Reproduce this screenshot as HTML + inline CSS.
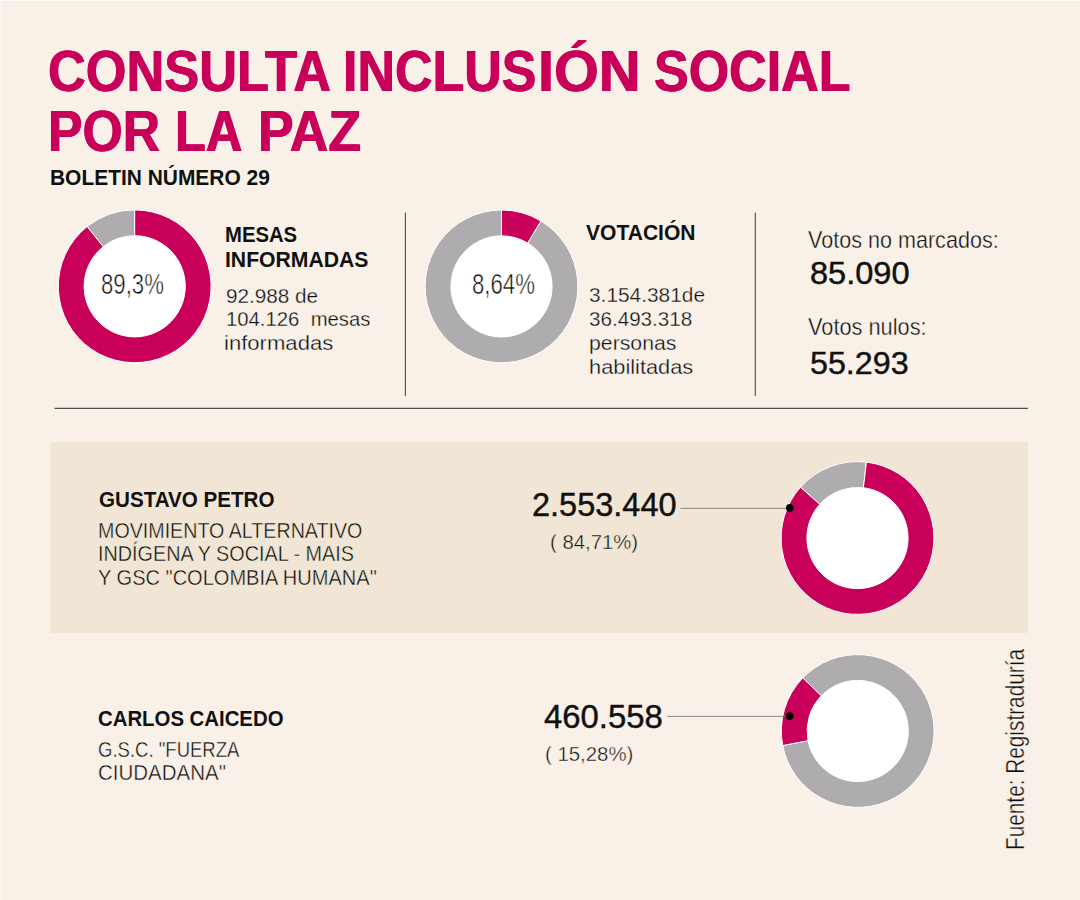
<!DOCTYPE html>
<html lang="es">
<head>
<meta charset="utf-8">
<title>Consulta Inclusión Social por la Paz</title>
<style>
html,body{margin:0;padding:0}
body{width:1080px;height:900px;position:relative;overflow:hidden;background:#f9f1e8;
font-family:"Liberation Sans",sans-serif;}
svg{position:absolute;left:0;top:0}
h1{margin:0;font-size:0;line-height:0;font-weight:700}
.t{position:absolute;white-space:pre;line-height:1;transform-origin:0 0;margin:0;display:block}
.r{position:absolute;width:0;height:0;transform:rotate(-90deg);transform-origin:0 0}
</style>
</head>
<body>
<svg width="1080" height="900" viewBox="0 0 1080 900">
<rect x="0" y="0" width="1080" height="1" fill="#fefbf5"/>
<rect x="0" y="1" width="1080" height="2" fill="#f6f0e7"/>
<rect x="0" y="0" width="1" height="900" fill="#fdf6f0"/>
<rect x="50.7" y="442" width="977.3" height="191" fill="#f1e6d6"/>
<line x1="54.6" y1="408.3" x2="1028" y2="408.3" stroke="#524b4b" stroke-width="1.3"/>
<line x1="405.4" y1="212.5" x2="405.4" y2="396" stroke="#524b4b" stroke-width="1.1"/>
<line x1="755.3" y1="212.5" x2="755.3" y2="396" stroke="#524b4b" stroke-width="1.1"/>
<circle cx="134.7" cy="286.3" r="51.6" fill="#fff"/><path d="M87.14 226.51A76.4 76.4 0 0 1 134.70 209.90L134.70 235.70A50.6 50.6 0 0 0 103.20 246.70Z" fill="#aeacaf" stroke="#fff" stroke-width="1" stroke-linejoin="round"/><path d="M134.70 209.90A76.4 76.4 0 1 1 87.14 226.51L103.20 246.70A50.6 50.6 0 1 0 134.70 235.70Z" fill="#c8005a" stroke="#fff" stroke-width="1" stroke-linejoin="round"/>
<circle cx="501.5" cy="286.4" r="51.6" fill="#fff"/><path d="M540.96 220.98A76.4 76.4 0 1 1 501.50 210.00L501.50 235.80A50.6 50.6 0 1 0 527.64 243.07Z" fill="#aeacaf" stroke="#fff" stroke-width="1" stroke-linejoin="round"/><path d="M501.50 210.00A76.4 76.4 0 0 1 540.96 220.98L527.64 243.07A50.6 50.6 0 0 0 501.50 235.80Z" fill="#c8005a" stroke="#fff" stroke-width="1" stroke-linejoin="round"/>
<circle cx="857.5" cy="538.0" r="51.6" fill="#fff"/><path d="M800.46 487.18A76.4 76.4 0 0 1 866.41 462.12L863.40 487.75A50.6 50.6 0 0 0 819.72 504.34Z" fill="#aeacaf" stroke="#fff" stroke-width="1" stroke-linejoin="round"/><path d="M866.41 462.12A76.4 76.4 0 1 1 800.46 487.18L819.72 504.34A50.6 50.6 0 1 0 863.40 487.75Z" fill="#c8005a" stroke="#fff" stroke-width="1" stroke-linejoin="round"/>
<circle cx="857.7" cy="731.0" r="51.6" fill="#fff"/><path d="M802.74 677.93A76.4 76.4 0 1 1 782.70 745.58L808.03 740.65A50.6 50.6 0 1 0 821.30 695.85Z" fill="#aeacaf" stroke="#fff" stroke-width="1" stroke-linejoin="round"/><path d="M782.70 745.58A76.4 76.4 0 0 1 802.74 677.93L821.30 695.85A50.6 50.6 0 0 0 808.03 740.65Z" fill="#c8005a" stroke="#fff" stroke-width="1" stroke-linejoin="round"/>
<line x1="680.4" y1="508.3" x2="790" y2="508.3" stroke="#6a6a6a" stroke-width="0.8"/>
<line x1="667.3" y1="716.4" x2="790" y2="716.4" stroke="#6a6a6a" stroke-width="0.8"/>
<circle cx="789.8" cy="507.9" r="3.8" fill="#000"/>
<circle cx="789.7" cy="716.1" r="3.8" fill="#000"/>
</svg>
<h1><span class="t" style="left:47.66px;top:44.30px;font-size:56.83px;transform:scaleX(0.9211);color:#c8005a;font-weight:700;text-shadow:.6px 0 currentColor,-.6px 0 currentColor">CONSULTA</span> <span class="t" style="left:343.39px;top:44.30px;font-size:56.83px;transform:scaleX(0.9145);color:#c8005a;font-weight:700;text-shadow:.6px 0 currentColor,-.6px 0 currentColor">INCLUS</span><span class="t" style="left:537.73px;top:44.30px;font-size:56.83px;transform:scaleX(1.0142);color:#c8005a;font-weight:700;text-shadow:.6px 0 currentColor,-.6px 0 currentColor">IÓN</span> <span class="t" style="left:654.39px;top:44.30px;font-size:56.83px;transform:scaleX(0.9152);color:#c8005a;font-weight:700;text-shadow:.6px 0 currentColor,-.6px 0 currentColor">SOCIAL</span> <span class="t" style="left:48.41px;top:104.30px;font-size:56.83px;transform:scaleX(0.9106);color:#c8005a;font-weight:700;text-shadow:.6px 0 currentColor,-.6px 0 currentColor">POR</span> <span class="t" style="left:175.47px;top:104.30px;font-size:56.83px;transform:scaleX(0.8891);color:#c8005a;font-weight:700;text-shadow:.6px 0 currentColor,-.6px 0 currentColor">LA</span> <span class="t" style="left:257.56px;top:104.30px;font-size:56.83px;transform:scaleX(0.9416);color:#c8005a;font-weight:700;text-shadow:.6px 0 currentColor,-.6px 0 currentColor">PAZ</span></h1>
<div class="t" style="left:50.07px;top:166.50px;font-size:22.24px;transform:scaleX(0.9415);color:#111111;font-weight:700">BOLETIN NÚMERO 29</div>
<div class="t" style="left:225.35px;top:224.40px;font-size:22.38px;transform:scaleX(0.9068);color:#111111;font-weight:700">MESAS</div>
<div class="t" style="left:225.30px;top:248.50px;font-size:22.38px;transform:scaleX(0.9450);color:#111111;font-weight:700">INFORMADAS</div>
<div class="t" style="left:225.94px;top:285.50px;font-size:20.48px;transform:scaleX(1.0113);color:#0d0d0d;-webkit-text-stroke:0.3px #f9f1e8">92.988 de</div>
<div class="t" style="left:225.74px;top:309.40px;font-size:20.48px;transform:scaleX(0.9916);color:#0d0d0d;-webkit-text-stroke:0.3px #f9f1e8">104.126  mesas</div>
<div class="t" style="left:224.27px;top:333.10px;font-size:20.48px;transform:scaleX(1.0790);color:#0d0d0d;-webkit-text-stroke:0.3px #f9f1e8">informadas</div>
<div class="t" style="left:101.17px;top:269.40px;font-size:29.45px;transform:scaleX(0.7534);color:#0d0d0d;-webkit-text-stroke:0.55px #fff">89,3%</div>
<div class="t" style="left:472.27px;top:269.40px;font-size:29.45px;transform:scaleX(0.7534);color:#0d0d0d;-webkit-text-stroke:0.55px #fff">8,64%</div>
<div class="t" style="left:586.31px;top:221.50px;font-size:22.38px;transform:scaleX(0.9404);color:#111111;font-weight:700">VOTACIÓN</div>
<div class="t" style="left:589.15px;top:285.10px;font-size:20.48px;transform:scaleX(1.0194);color:#0d0d0d;-webkit-text-stroke:0.3px #f9f1e8">3.154.381de</div>
<div class="t" style="left:589.16px;top:309.00px;font-size:20.48px;transform:scaleX(1.0077);color:#0d0d0d;-webkit-text-stroke:0.3px #f9f1e8">36.493.318</div>
<div class="t" style="left:588.91px;top:333.10px;font-size:20.48px;transform:scaleX(1.0381);color:#0d0d0d;-webkit-text-stroke:0.3px #f9f1e8">personas</div>
<div class="t" style="left:588.83px;top:357.00px;font-size:20.48px;transform:scaleX(1.0654);color:#0d0d0d;-webkit-text-stroke:0.3px #f9f1e8">habilitadas</div>
<div class="t" style="left:808.46px;top:227.80px;font-size:24.71px;transform:scaleX(0.8733);color:#0d0d0d;-webkit-text-stroke:0.4px #f9f1e8">Votos no marcados:</div>
<div class="t" style="left:809.64px;top:257.20px;font-size:32.15px;transform:scaleX(1.0126);color:#111111;-webkit-text-stroke:.45px currentColor">85.090</div>
<div class="t" style="left:808.45px;top:314.70px;font-size:24.71px;transform:scaleX(0.8810);color:#0d0d0d;-webkit-text-stroke:0.4px #f9f1e8">Votos nulos:</div>
<div class="t" style="left:810.22px;top:347.20px;font-size:32.15px;transform:scaleX(1.0033);color:#111111;-webkit-text-stroke:.45px currentColor">55.293</div>
<div class="t" style="left:98.94px;top:488.00px;font-size:22.82px;transform:scaleX(0.9029);color:#111111;font-weight:700">GUSTAVO PETRO</div>
<div class="t" style="left:98.02px;top:519.60px;font-size:22.09px;transform:scaleX(0.8907);color:#0d0d0d;-webkit-text-stroke:0.4px #f1e6d6">MOVIMIENTO ALTERNATIVO</div>
<div class="t" style="left:97.94px;top:543.00px;font-size:22.09px;transform:scaleX(0.8968);color:#0d0d0d;-webkit-text-stroke:0.4px #f1e6d6">INDÍGENA Y SOCIAL - MAIS</div>
<div class="t" style="left:98.18px;top:566.70px;font-size:22.09px;transform:scaleX(0.9072);color:#0d0d0d;-webkit-text-stroke:0.4px #f1e6d6">Y GSC &quot;COLOMBIA HUMANA&quot;</div>
<div class="t" style="left:98.36px;top:707.40px;font-size:22.82px;transform:scaleX(0.8924);color:#111111;font-weight:700">CARLOS CAICEDO</div>
<div class="t" style="left:98.27px;top:738.70px;font-size:22.09px;transform:scaleX(0.8392);color:#0d0d0d;-webkit-text-stroke:0.4px #f9f1e8">G.S.C. &quot;FUERZA</div>
<div class="t" style="left:98.15px;top:762.40px;font-size:22.09px;transform:scaleX(0.9287);color:#0d0d0d;-webkit-text-stroke:0.4px #f9f1e8">CIUDADANA&quot;</div>
<div class="t" style="left:532.41px;top:487.60px;font-size:33.29px;transform:scaleX(0.9760);color:#111111;-webkit-text-stroke:.45px currentColor">2.553.440</div>
<div class="t" style="left:550.20px;top:530.90px;font-size:21.05px;transform:scaleX(0.9650);color:#0d0d0d;-webkit-text-stroke:0.4px #f1e6d6">( 84,71%)</div>
<div class="t" style="left:544.44px;top:700.30px;font-size:33.29px;transform:scaleX(0.9876);color:#111111;-webkit-text-stroke:.45px currentColor">460.558</div>
<div class="t" style="left:544.69px;top:743.10px;font-size:21.05px;transform:scaleX(0.9685);color:#0d0d0d;-webkit-text-stroke:0.4px #f9f1e8">( 15,28%)</div>
<div class="r" style="left:1024.0px;top:848.1px"><div class="t" style="left:-1.83px;top:-21.00px;font-size:25.15px;transform:scaleX(0.8266);color:#0d0d0d;-webkit-text-stroke:0.4px #f9f1e8;">Fuente: Registraduría</div></div>
</body>
</html>
